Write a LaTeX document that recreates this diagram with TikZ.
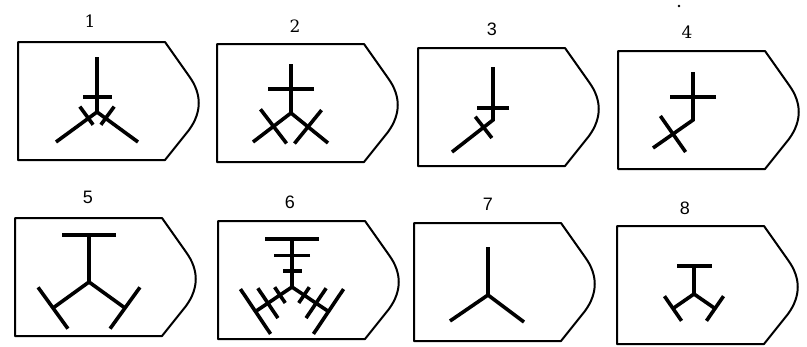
\documentclass[tikz,border=0pt]{standalone}
\usepackage{fontspec}
\usepackage{tikz}
\usetikzlibrary{calc}
\newfontfamily\numserif{DejaVu Serif}
\newfontfamily\numsans{Liberation Sans}

\tikzset{
  card/.style={draw, line width=2pt, line join=round},
  bond/.style={draw, line width=3.6pt},
  num/.style={font=\fontsize{18}{20}\numsans, inner sep=0pt},
  numserif/.style={num, font=\fontsize{17}{20}\numserif},
}

% outline of one card, top left corner at the origin
\newcommand\card{%
  \draw[card] (0,0) -- (147,0) -- (171,34)
    .. controls (184,52) and (184,70) .. (171,88)
    -- (147,118) -- (0,118) -- cycle;
}
% bar across a bond: from, to, position, length on each side
\newcommand\crossbond[5]{%
  \path ($(#1)!#3!(#2)$) coordinate (cb);
  \draw[bond] ($(cb)!#4!90:(#1)$) -- ($(cb)!#5!-90:(#1)$);
}

\begin{document}
\begin{tikzpicture}[x=1pt, y=-1pt]
  \useasboundingbox (0,0) rectangle (807,346);

  % top row
  \begin{scope}[shift={(18,42)}]
    \card
    \node[numserif] (n1) at (72,-21) {1};
    \coordinate (s1) at (79,15);
    \coordinate (j1) at (79,70);
    \coordinate (a1) at (38,100);
    \coordinate (b1) at (120,100);
    \draw[bond] (s1) -- (j1) -- (a1) (j1) -- (b1);
    \crossbond{j1}{s1}{0.27}{14.5pt}{14.5pt}
    \crossbond{j1}{a1}{0.21}{14.5pt}{8pt}
    \crossbond{j1}{b1}{0.21}{8pt}{14.5pt}
  \end{scope}

  \begin{scope}[shift={(217,44)}]
    \card
    \node[numserif] (n2) at (78,-18) {2};
    \coordinate (s2) at (74,20);
    \coordinate (j2) at (74,69);
    \coordinate (a2) at (36,98);
    \coordinate (b2) at (111,99);
    \draw[bond] (s2) -- (j2) -- (a2) (j2) -- (b2);
    \crossbond{j2}{s2}{0.49}{23pt}{23pt}
    \crossbond{j2}{a2}{0.46}{21.5pt}{21.5pt}
    \crossbond{j2}{b2}{0.46}{21.5pt}{21.5pt}
  \end{scope}

  \begin{scope}[shift={(418,48)}]
    \card
    \node[num] (n3) at (74,-19) {3};
    \coordinate (s3) at (75,19);
    \coordinate (j3) at (75,72);
    \coordinate (a3) at (34,104);
    \draw[bond] (s3) -- (j3) -- (a3);
    \crossbond{j3}{s3}{0.23}{16pt}{16pt}
    \crossbond{j3}{a3}{0.23}{13.5pt}{13.5pt}
  \end{scope}

  \begin{scope}[shift={(618,51)}]
    \card
    \node[numserif] (n4) at (69,-19) {4};
    \fill (61,-45) circle (1.3);
    \coordinate (s4) at (75,21);
    \coordinate (j4) at (75,69);
    \coordinate (a4) at (35,97);
    \draw[bond] (s4) -- (j4) -- (a4);
    \crossbond{j4}{s4}{0.48}{23pt}{23pt}
    \crossbond{j4}{a4}{0.5}{22pt}{22pt}
  \end{scope}

  % bottom row
  \begin{scope}[shift={(15,218)}]
    \card
    \node[num] (n5) at (73,-21) {5};
    \coordinate (s5) at (74,17);
    \coordinate (j5) at (74,64);
    \coordinate (a5) at (38,90);
    \coordinate (b5) at (110,90);
    \draw[bond] (s5) -- (j5) -- (a5) (j5) -- (b5);
    \crossbond{j5}{s5}{1}{27pt}{27pt}
    \crossbond{j5}{a5}{1}{25.5pt}{25.5pt}
    \crossbond{j5}{b5}{1}{25.5pt}{25.5pt}
  \end{scope}

  \begin{scope}[shift={(218,221)}]
    \card
    \node[num] (n6) at (72,-19) {6};
    \coordinate (s6) at (74,18);
    \coordinate (j6) at (74,66);
    \coordinate (a6) at (37.5,90.5);
    \coordinate (b6) at (110.5,90.5);
    \draw[bond] (s6) -- (j6) -- (a6) (j6) -- (b6);
    \foreach \e in {s6,a6,b6}
      \foreach \f/\h in {1/27pt, 0.66/18pt, 0.33/9.5pt}
        {\crossbond{j6}{\e}{\f}{\h}{\h}}
  \end{scope}

  \begin{scope}[shift={(414,223)}]
    \card
    \node[num] (n7) at (74,-19) {7};
    \coordinate (s7) at (74,24);
    \coordinate (j7) at (74,72);
    \coordinate (a7) at (36,98);
    \coordinate (b7) at (110,99);
    \draw[bond] (s7) -- (j7) -- (a7) (j7) -- (b7);
  \end{scope}

  \begin{scope}[shift={(617,226)}]
    \card
    \node[num] (n8) at (68,-18) {8};
    \coordinate (s8) at (77,40);
    \coordinate (j8) at (77,68);
    \coordinate (a8) at (56,82.5);
    \coordinate (b8) at (98,82.5);
    \draw[bond] (s8) -- (j8) -- (a8) (j8) -- (b8);
    \crossbond{j8}{s8}{1}{17.5pt}{17.5pt}
    \crossbond{j8}{a8}{1}{15pt}{15pt}
    \crossbond{j8}{b8}{1}{15pt}{15pt}
  \end{scope}
\end{tikzpicture}
\end{document}
